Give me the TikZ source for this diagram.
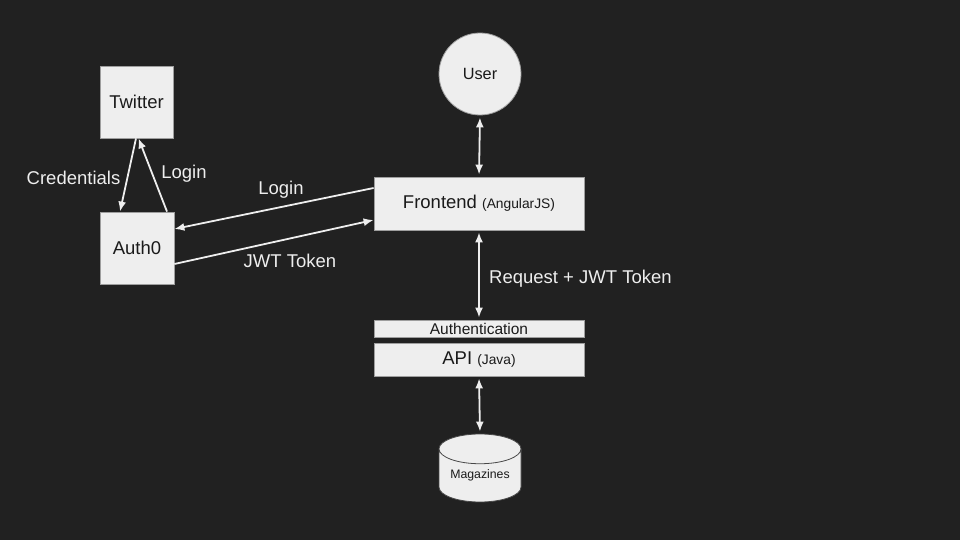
\documentclass[tikz,border=0pt]{standalone}
\usepackage{fontspec}
\setmainfont{Liberation Sans}
\usetikzlibrary{shapes.geometric,arrows.meta}
\definecolor{bg}{HTML}{212121}
\definecolor{boxfill}{HTML}{EEEEEE}
\definecolor{boxline}{HTML}{9E9E9E}
\definecolor{wire}{HTML}{EEEEEE}
\definecolor{ink}{HTML}{1A1A1A}
\tikzset{
  box/.style={draw=boxline, fill=boxfill, line width=0.8pt, text=ink, inner sep=0pt,
    font=\fontsize{18.5}{20}\selectfont},
  conn/.style={draw=wire, line width=1.8pt, -{Latex[length=10pt,width=8pt]}},
  biconn/.style={draw=wire, line width=1.8pt, {Latex[length=10pt,width=8pt]}-{Latex[length=10pt,width=8pt]}, shorten >=2pt, shorten <=2pt},
  lbl/.style={text=wire, font=\fontsize{18.5}{20}\selectfont, inner sep=0pt},
}
\begin{document}
\begin{tikzpicture}[x=1pt,y=1pt]
\fill[bg] (0,0) rectangle (960,540);
\useasboundingbox (0,0) rectangle (960,540);

\node[box, minimum width=73pt, minimum height=72pt] (tw) at (136.5,438) {Twitter};
\node[box, minimum width=74pt, minimum height=72pt] (au) at (137,292) {Auth0};
\node[box, minimum width=210pt, minimum height=53pt] (fe) at (479,336.5) {Frontend {\fontsize{13.8}{15}\selectfont(AngularJS)}};
\node[box, circle, minimum size=82pt, font=\fontsize{16.3}{18}\selectfont] (user) at (480,466) {User};
\node[box, minimum width=210pt, minimum height=17pt, font=\fontsize{15.5}{16}\selectfont] (authn) at (479,211.5) {Authentication};
\node[box, minimum width=210pt, minimum height=33pt] (api) at (479,180.5) {API {\fontsize{13.8}{15}\selectfont(Java)}};
\node[box, draw=ink!80, cylinder, shape border rotate=90, aspect=0.5, minimum width=82pt, minimum height=68pt, anchor=shape center, font=\fontsize{12.3}{14}\selectfont] (mag) at (480,72) {Magazines};

\draw[biconn] (user.south) -- (fe.north);
\draw[biconn] (fe.south) -- (authn.north);
\draw[biconn] (api.south) -- (mag.north);

\draw[conn] ([xshift=-0.5pt]tw.south) -- ([xshift=-17pt]au.north);
\draw[conn] ([xshift=30pt]au.north) -- ([xshift=2pt]tw.south);
\draw[conn] ([yshift=15.5pt]fe.west) -- ([yshift=19pt]au.east);
\draw[conn] ([yshift=-16pt]au.east) -- ([yshift=-16.5pt]fe.west);

\node[lbl] (lcred) at (73.5,362) {Credentials};
\node[lbl] (ltwlogin) at (184,366) {Login};
\node[lbl] (llogin) at (281,350) {Login};
\node[lbl] (ljwt) at (290,279) {JWT Token};
\node[lbl, anchor=west] (lreq) at (489,261) {Request + JWT Token};
\end{tikzpicture}
\end{document}
